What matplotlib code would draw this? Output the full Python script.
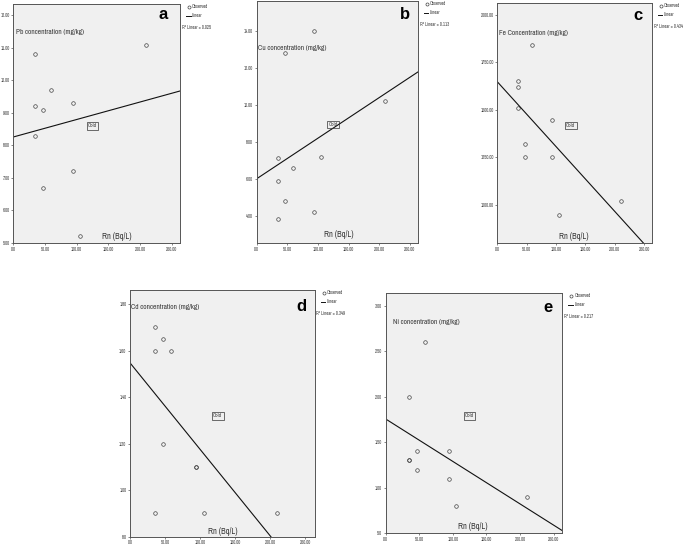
import matplotlib
matplotlib.use("Agg")
import matplotlib.pyplot as plt
from matplotlib.lines import Line2D
import numpy as np

plt.rcParams['font.family'] = ['Archivo Narrow', 'DejaVu Sans']

W, H = 685, 548

# ---------------- data ----------------
rn_a = [35, 35, 35, 47, 47, 59, 94, 94, 105, 210]
pb = [10.8, 9.2, 8.3, 9.1, 6.7, 9.7, 9.3, 7.2, 5.2, 11.1]

rn_b = [35, 35, 35, 47, 47, 59, 94, 94, 105, 210]
cu = [7.1, 5.9, 3.8, 12.8, 4.8, 6.6, 14.0, 4.2, 7.2, 10.2]

rn_c = [35, 35, 35, 47, 47, 59, 94, 94, 105, 210]
fe = [1650, 1620, 1510, 1320, 1250, 1840, 1445, 1250, 947, 1018]

rn_d = [35, 35, 35, 47, 47, 59, 94, 94, 105, 210]
cd = [1.70, 1.60, 0.90, 1.65, 1.20, 1.60, 1.10, 1.10, 0.90, 0.90]

rn_e = [35, 35, 35, 47, 47, 59, 94, 94, 105, 210]
ni = [1.30, 1.30, 2.00, 1.40, 1.20, 2.60, 1.40, 1.10, 0.80, 0.90]

# linear fit lines (intercept, slope)
fit_a = (8.26, 0.00538)
fit_b = (6.0, 0.0219)
fit_c = (1648, -3.42)
fit_d = (1.547, -0.00372)
fit_e = (1.755, -0.00466)

r2_a, r2_b, r2_c, r2_d, r2_e = "0.025", "0.113", "0.434", "0.349", "0.217"

x_ticks = [0, 50, 100, 150, 200, 250]
yt_a = [5, 6, 7, 8, 9, 10, 11, 12]
yt_b = [4, 6, 8, 10, 12, 14]
yt_c = [1000, 1250, 1500, 1750, 2000]
yt_d = [0.8, 1.0, 1.2, 1.4, 1.6, 1.8]
yt_e = [0.5, 1.0, 1.5, 2.0, 2.5, 3.0]

ylabels = ["Pb concentration (mg/kg)", "Cu concentration (mg/kg)",
           "Fe Concentration (mg/kg)", "Cd concentration (mg/kg)",
           "Ni concentration (mg/kg)"]
letters = ["a", "b", "c", "d", "e"]
xlabel = "Rn (Bq/L)"

# ---------------- layout ----------------
panels = [
    dict(rect=(13.3, 4, 180, 243), x=rn_a, y=pb, fit=fit_a, r2=r2_a, yt=yt_a,
         ylim=(5.0, 12.35), lab=(0.016, 0.883), xl=(0.62, 0.026), let=(0.90, 0.955)),
    dict(rect=(256.7, 1, 417.7, 243), x=rn_b, y=cu, fit=fit_b, r2=r2_b, yt=yt_b,
         ylim=(2.53, 15.6), lab=(0.006, 0.807), xl=(0.507, 0.037), let=(0.92, 0.945)),
    dict(rect=(497.3, 3.3, 651.7, 243), x=rn_c, y=fe, fit=fit_c, r2=r2_c, yt=yt_c,
         ylim=(797, 2062), lab=(0.008, 0.875), xl=(0.497, 0.026), let=(0.91, 0.95)),
    dict(rect=(130.0, 290, 314.5, 536.7), x=rn_d, y=cd, fit=fit_d, r2=r2_d, yt=yt_d,
         ylim=(0.80, 1.86), lab=(0.007, 0.931), xl=(0.50, 0.022), let=(0.93, 0.935)),
    dict(rect=(385.7, 293.3, 562.3, 533.3), x=rn_e, y=ni, fit=fit_e, r2=r2_e, yt=yt_e,
         ylim=(0.50, 3.135), lab=(0.043, 0.879), xl=(0.494, 0.027), let=(0.917, 0.94)),
]

def fmt(v):
    return f"{v:.2f}".lstrip("0") if abs(v) < 1 else f"{v:.2f}"

fig = plt.figure(figsize=(W / 100, H / 100), dpi=100)
fig.patch.set_facecolor("white")

bg = "#f0f0f0"
edge = "#555555"
tsize = 3.3
txtc = "#3a3a3a"

def fx(px):
    return px / W

def fy(py):
    return 1 - py / H

for i, p in enumerate(panels):
    l, t, r, b = p["rect"]
    ax = fig.add_axes([l / W, 1 - b / H, (r - l) / W, (b - t) / H])
    ax.set_facecolor(bg)
    for s in ax.spines.values():
        s.set_color(edge)
        s.set_linewidth(0.7)
    ax.set_xlim(0, 263)
    ax.set_ylim(*p["ylim"])
    ax.set_xticks(x_ticks)
    ax.set_xticklabels([fmt(v) for v in x_ticks])
    ax.set_yticks(p["yt"])
    ax.set_yticklabels([fmt(v) for v in p["yt"]])
    ax.tick_params(direction="out", length=1.6, width=0.5, color=edge,
                   labelsize=tsize, pad=1.0, labelcolor=txtc)

    ax.plot(p["x"], p["y"], linestyle="none", marker="o", ms=2.6,
            mfc="none", mec="#444444", mew=0.5)
    xs = np.array([0, 263])
    ax.plot(xs, p["fit"][0] + p["fit"][1] * xs, color="#111111", lw=0.8)

    ax.text(p["lab"][0], p["lab"][1], ylabels[i], transform=ax.transAxes,
            fontsize=5.3, color=txtc, ha="left", va="center")
    ax.text(p["xl"][0], p["xl"][1], xlabel, transform=ax.transAxes,
            fontsize=6.0, color=txtc, ha="center", va="center")
    ax.text(p["let"][0], p["let"][1], letters[i], transform=ax.transAxes,
            fontsize=12, fontweight="bold", family="Liberation Sans",
            ha="center", va="center", color="black")
    ax.text(0.475, 0.49, "Cold", transform=ax.transAxes, fontsize=3.8,
            ha="center", va="center", color=txtc,
            bbox=dict(boxstyle="square,pad=0.25", fc="none", ec="#333333", lw=0.5))

    # legend outside right
    fig.add_artist(Line2D([fx(r + 9)], [fy(t + 2.5)], marker="o", ms=2.2,
                          mfc="none", mec="#444444", mew=0.5, linestyle="none",
                          transform=fig.transFigure))
    fig.text(fx(r + 12), fy(t + 2.5), "Observed", fontsize=3.3, va="center",
             ha="left", color=txtc)
    fig.add_artist(Line2D([fx(r + 6), fx(r + 10.7)], [fy(t + 11.5), fy(t + 11.5)],
                          color="#111111", lw=0.7, transform=fig.transFigure))
    fig.text(fx(r + 12), fy(t + 11.5), "Linear", fontsize=3.3, va="center",
             ha="left", color=txtc)
    fig.text(fx(r + 2), fy(t + 23.5), "R² Linear = " + p["r2"], fontsize=3.3,
             va="center", ha="left", color=txtc)

fig.savefig("out.png", dpi=100)
